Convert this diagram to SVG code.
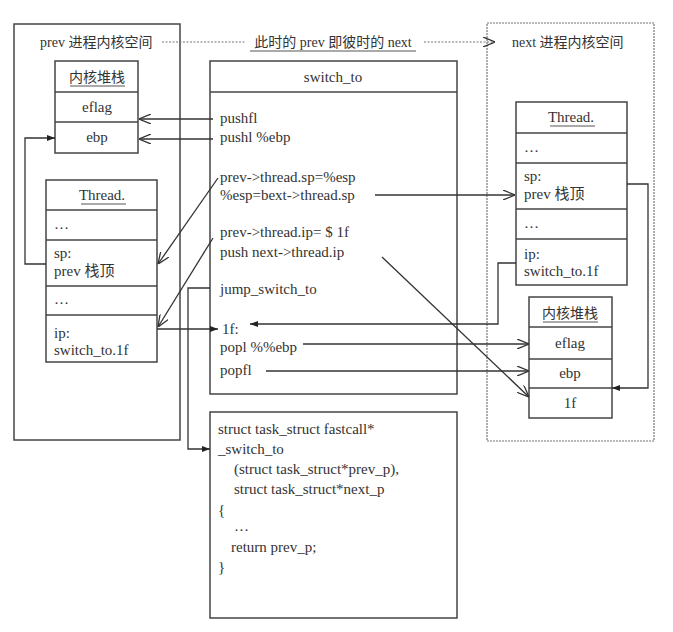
<svg xmlns="http://www.w3.org/2000/svg" width="673" height="632" viewBox="0 0 673 632">
<style>
text{font-family:"Liberation Serif","Noto Sans CJK SC",serif;font-size:14px;fill:#333}
.k{font-size:15px}
.c{text-anchor:middle}
.box{fill:#fff;stroke:#444;stroke-width:1.5}
.div{stroke:#444;stroke-width:1.5}
.ul{stroke:#555;stroke-width:1}
.ln{fill:none;stroke:#333;stroke-width:1.3}
.dot{fill:none;stroke:#777;stroke-width:1;stroke-dasharray:2,1.5}
</style>
<defs>
<marker id="open" viewBox="0 0 12 10" refX="12" refY="5" markerWidth="12" markerHeight="10" markerUnits="userSpaceOnUse" orient="auto"><path d="M0,0 L12,5 L0,10" fill="none" stroke="#333" stroke-width="1.3"/></marker>
<marker id="fill" viewBox="0 0 8 6" refX="8" refY="3" markerWidth="8" markerHeight="6" markerUnits="userSpaceOnUse" orient="auto"><path d="M0,0 L8,3 L0,6 z" fill="#222"/></marker>
</defs>
<rect width="673" height="632" fill="#fff"/>
<g id="prev-space">
<rect class="box" x="14" y="24" width="166" height="416"/>
<text x="40" y="47">prev 进程内核空间</text>
</g>
<g id="next-space">
<rect x="487" y="23" width="167" height="418" fill="none" stroke="#777" stroke-width="1.2" stroke-dasharray="2,1"/>
<text x="512" y="47">next 进程内核空间</text>
</g>
<g id="title">
<text class="c" x="333" y="47">此时的 prev 即彼时的 next</text>
<line class="ul" x1="250" y1="51" x2="416" y2="51"/>
</g>
<g id="prev-stack">
<rect class="box" x="55" y="61" width="83" height="92"/>
<line class="div" x1="55" y1="92" x2="138" y2="92"/>
<line class="div" x1="55" y1="122" x2="138" y2="122"/>
<text class="c" x="97" y="82">内核堆栈</text>
<line class="ul" x1="70" y1="86" x2="125" y2="86"/>
<text class="c k" x="97" y="112">eflag</text>
<text class="c k" x="97" y="142">ebp</text>
</g>
<g id="switch-to">
<rect class="box" x="210" y="61" width="247" height="333"/>
<line class="div" x1="210" y1="92" x2="457" y2="92"/>
<text class="c k" x="333" y="82">switch_to</text>
<text class="k" x="220" y="123">pushfl</text>
<text class="k" x="220" y="142">pushl %ebp</text>
<text class="k" x="220" y="182">prev-&gt;thread.sp=%esp</text>
<text class="k" x="220" y="200">%esp=bext-&gt;thread.sp</text>
<text class="k" x="220" y="237">prev-&gt;thread.ip= $ 1f</text>
<text class="k" x="220" y="257">push next-&gt;thread.ip</text>
<text class="k" x="220" y="294">jump_switch_to</text>
<text class="k" x="222" y="334">1f:</text>
<text class="k" x="220" y="352">popl %%ebp</text>
<text class="k" x="220" y="375">popfl</text>
</g>
<g id="prev-thread">
<rect class="box" x="46" y="180" width="111" height="182"/>
<line class="div" x1="46" y1="210" x2="157" y2="210"/>
<line class="div" x1="46" y1="240" x2="157" y2="240"/>
<line class="div" x1="46" y1="286" x2="157" y2="286"/>
<line class="div" x1="46" y1="315" x2="157" y2="315"/>
<text class="c k" x="102" y="200">Thread.</text>
<line class="ul" x1="81" y1="204" x2="126" y2="204"/>
<text class="k" x="54" y="229">…</text>
<text class="k" x="54" y="258">sp:</text>
<text class="k" x="54" y="276">prev 栈顶</text>
<text class="k" x="54" y="304">…</text>
<text class="k" x="54" y="338">ip:</text>
<text class="k" x="54" y="355">switch_to.1f</text>
</g>
<g id="next-thread">
<rect class="box" x="516" y="102" width="111" height="183"/>
<line class="div" x1="516" y1="133" x2="627" y2="133"/>
<line class="div" x1="516" y1="163" x2="627" y2="163"/>
<line class="div" x1="516" y1="209" x2="627" y2="209"/>
<line class="div" x1="516" y1="239" x2="627" y2="239"/>
<text class="c k" x="571" y="122">Thread.</text>
<line class="ul" x1="550" y1="126" x2="595" y2="126"/>
<text class="k" x="524" y="152">…</text>
<text class="k" x="524" y="181">sp:</text>
<text class="k" x="524" y="199">prev 栈顶</text>
<text class="k" x="524" y="228">…</text>
<text class="k" x="524" y="259">ip:</text>
<text class="k" x="524" y="276">switch_to.1f</text>
</g>
<g id="next-stack">
<rect class="box" x="529" y="297" width="83" height="121"/>
<line class="div" x1="529" y1="327" x2="612" y2="327"/>
<line class="div" x1="529" y1="359" x2="612" y2="359"/>
<line class="div" x1="529" y1="388" x2="612" y2="388"/>
<text class="c" x="570" y="318">内核堆栈</text>
<line class="ul" x1="543" y1="322" x2="598" y2="322"/>
<text class="c k" x="570" y="348">eflag</text>
<text class="c k" x="570" y="378">ebp</text>
<text class="c k" x="570" y="408">1f</text>
</g>
<g id="switch-func">
<rect class="box" x="210" y="412" width="247" height="206"/>
<text class="k" x="218" y="434">struct task_struct fastcall*</text>
<text class="k" x="218" y="454">_switch_to</text>
<text class="k" x="234" y="474">(struct task_struct*prev_p),</text>
<text class="k" x="234" y="494">struct task_struct*next_p</text>
<text class="k" x="218" y="515">{</text>
<text class="k" x="234" y="531">…</text>
<text class="k" x="231" y="552">return prev_p;</text>
<text class="k" x="218" y="572">}</text>
</g>
<g id="connectors">
<path class="dot" d="M162,42 H246"/>
<path class="dot" d="M424,42 H495" marker-end="url(#open)"/>
<path class="ln" d="M213,119 H139" marker-end="url(#open)"/>
<path class="ln" d="M213,139 H139" marker-end="url(#open)"/>
<path class="ln" d="M46,264 H25 V138 H55" marker-end="url(#fill)"/>
<path class="ln" d="M218,178 L158,264" marker-end="url(#open)"/>
<path class="ln" d="M213,238 L158,327" marker-end="url(#open)"/>
<path class="ln" d="M210,288 H188 V449 H210" marker-end="url(#fill)"/>
<path class="ln" d="M157,329 H218" marker-end="url(#fill)"/>
<path class="ln" d="M375,195 H515" marker-end="url(#open)"/>
<path class="ln" d="M516,263 H498 V324 H250" marker-end="url(#fill)"/>
<path class="ln" d="M303,344 H529" marker-end="url(#open)"/>
<path class="ln" d="M266,371 H529" marker-end="url(#open)"/>
<path class="ln" d="M382,257 L529,397" marker-end="url(#open)"/>
<path class="ln" d="M627,184 H648 V388 H612" marker-end="url(#fill)"/>
</g>
</svg>
